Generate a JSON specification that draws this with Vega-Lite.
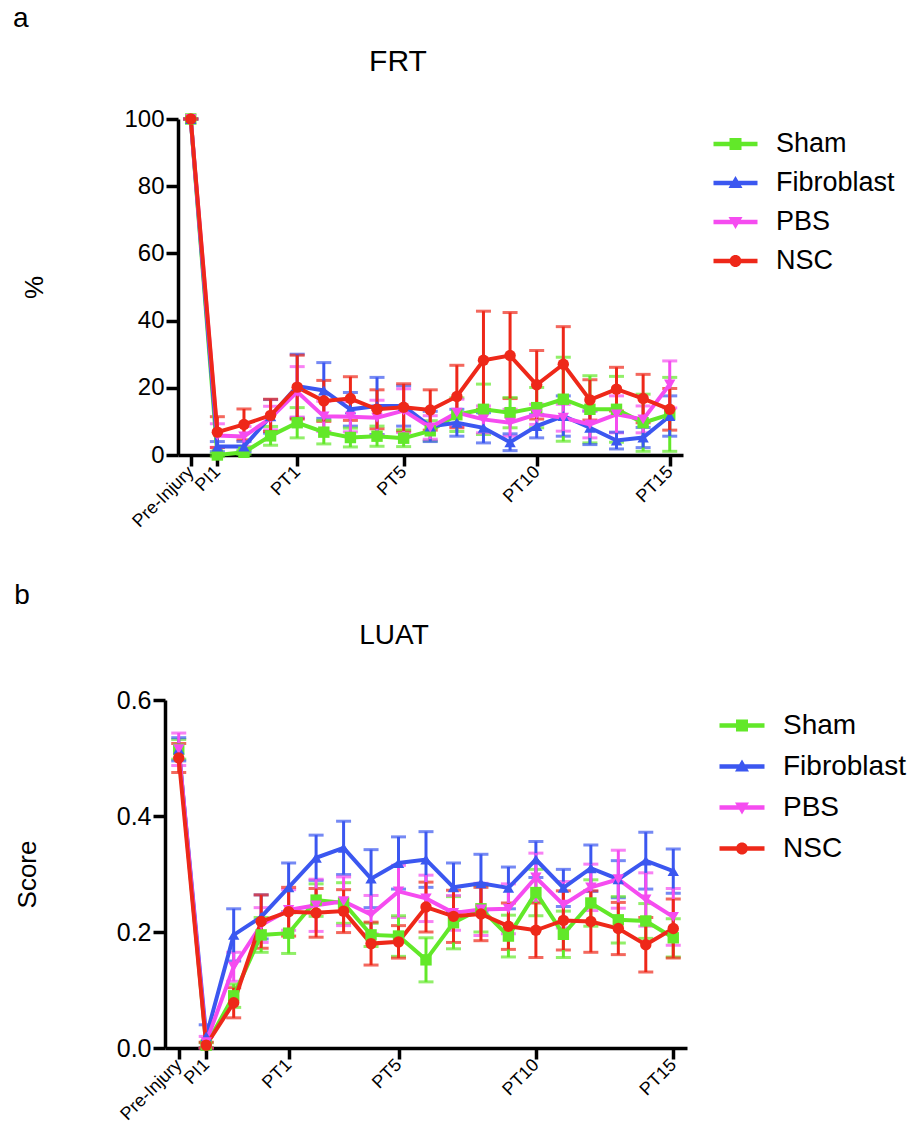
{
  "$schema": "https://vega.github.io/schema/vega-lite/v6.json",
  "padding": {"left": 12, "top": 5, "right": 5, "bottom": 5},
  "background": "white",
  "config": {
    "font": "Liberation Sans",
    "view": {"stroke": null},
    "axis": {"grid": false, "domainColor": "black", "tickColor": "black", "labelColor": "black", "titleColor": "black", "domainWidth": 3.5, "tickWidth": 3.5, "labelFont": "Liberation Sans", "titleFont": "Liberation Sans", "titleFontWeight": "normal"},
    "legend": {"labelFont": "Liberation Sans", "labelColor": "black"},
    "title": {"font": "Liberation Sans", "fontWeight": "normal", "color": "black"}
  },
  "datasets": {
    "frt": [
      {"t":"Pre-Injury","g":"Sham","m":100,"e":0},{"t":"PI1","g":"Sham","m":0,"e":0.5},{"t":"PI2","g":"Sham","m":0.8,"e":0.6},{"t":"PI3","g":"Sham","m":5.7,"e":2.8},{"t":"PT1","g":"Sham","m":9.6,"e":4.5},{"t":"PT2","g":"Sham","m":6.8,"e":3.5},{"t":"PT3","g":"Sham","m":5.2,"e":2.8},{"t":"PT4","g":"Sham","m":5.6,"e":3},{"t":"PT5","g":"Sham","m":5.0,"e":2.5},{"t":"PT6","g":"Sham","m":7.2,"e":3},{"t":"PT7","g":"Sham","m":12.0,"e":5},{"t":"PT8","g":"Sham","m":13.6,"e":7.5},{"t":"PT9","g":"Sham","m":12.6,"e":4.5},{"t":"PT10","g":"Sham","m":14.1,"e":6},{"t":"PT11","g":"Sham","m":16.6,"e":12.5},{"t":"PT12","g":"Sham","m":13.6,"e":10},{"t":"PT13","g":"Sham","m":13.6,"e":9.8},{"t":"PT14","g":"Sham","m":9.6,"e":8.5},{"t":"PT15","g":"Sham","m":12.1,"e":11},
      {"t":"Pre-Injury","g":"Fibroblast","m":100,"e":0},{"t":"PI1","g":"Fibroblast","m":2.5,"e":1.5},{"t":"PI2","g":"Fibroblast","m":2.5,"e":1.5},{"t":"PI3","g":"Fibroblast","m":11.5,"e":5},{"t":"PT1","g":"Fibroblast","m":20.5,"e":9.5},{"t":"PT2","g":"Fibroblast","m":19.2,"e":8.3},{"t":"PT3","g":"Fibroblast","m":13.6,"e":5},{"t":"PT4","g":"Fibroblast","m":14.6,"e":8.5},{"t":"PT5","g":"Fibroblast","m":14.6,"e":6},{"t":"PT6","g":"Fibroblast","m":8.5,"e":4.5},{"t":"PT7","g":"Fibroblast","m":9.6,"e":4},{"t":"PT8","g":"Fibroblast","m":8.1,"e":4.5},{"t":"PT9","g":"Fibroblast","m":3.8,"e":2.5},{"t":"PT10","g":"Fibroblast","m":8.6,"e":3.5},{"t":"PT11","g":"Fibroblast","m":11.6,"e":6},{"t":"PT12","g":"Fibroblast","m":8.1,"e":5},{"t":"PT13","g":"Fibroblast","m":4.3,"e":2.5},{"t":"PT14","g":"Fibroblast","m":5.2,"e":3},{"t":"PT15","g":"Fibroblast","m":11.6,"e":6},
      {"t":"Pre-Injury","g":"PBS","m":100,"e":0},{"t":"PI1","g":"PBS","m":5.8,"e":3.5},{"t":"PI2","g":"PBS","m":5.5,"e":3},{"t":"PI3","g":"PBS","m":11.0,"e":3.5},{"t":"PT1","g":"PBS","m":18.8,"e":7.5},{"t":"PT2","g":"PBS","m":11.5,"e":4.5},{"t":"PT3","g":"PBS","m":11.4,"e":4.5},{"t":"PT4","g":"PBS","m":11.1,"e":5.2},{"t":"PT5","g":"PBS","m":13.2,"e":6.5},{"t":"PT6","g":"PBS","m":8.2,"e":3.5},{"t":"PT7","g":"PBS","m":12.6,"e":4},{"t":"PT8","g":"PBS","m":10.6,"e":4},{"t":"PT9","g":"PBS","m":9.6,"e":4},{"t":"PT10","g":"PBS","m":12.1,"e":3},{"t":"PT11","g":"PBS","m":11.1,"e":4},{"t":"PT12","g":"PBS","m":9.1,"e":4},{"t":"PT13","g":"PBS","m":12.1,"e":5.5},{"t":"PT14","g":"PBS","m":10.6,"e":4},{"t":"PT15","g":"PBS","m":21.0,"e":7},
      {"t":"Pre-Injury","g":"NSC","m":100,"e":0},{"t":"PI1","g":"NSC","m":6.8,"e":4.6},{"t":"PI2","g":"NSC","m":9.1,"e":4.6},{"t":"PI3","g":"NSC","m":11.8,"e":4.8},{"t":"PT1","g":"NSC","m":20.2,"e":9.5},{"t":"PT2","g":"NSC","m":16.1,"e":6.1},{"t":"PT3","g":"NSC","m":16.8,"e":6.5},{"t":"PT4","g":"NSC","m":13.6,"e":5.8},{"t":"PT5","g":"NSC","m":14.2,"e":7},{"t":"PT6","g":"NSC","m":13.4,"e":6},{"t":"PT7","g":"NSC","m":17.4,"e":9.3},{"t":"PT8","g":"NSC","m":28.2,"e":14.6},{"t":"PT9","g":"NSC","m":29.6,"e":12.8},{"t":"PT10","g":"NSC","m":20.9,"e":10.2},{"t":"PT11","g":"NSC","m":27.0,"e":11.2},{"t":"PT12","g":"NSC","m":16.4,"e":6},{"t":"PT13","g":"NSC","m":19.6,"e":6.5},{"t":"PT14","g":"NSC","m":16.8,"e":7.2},{"t":"PT15","g":"NSC","m":13.6,"e":6.2}
    ],
    "luat": [
      {"t":"Pre-Injury","g":"Sham","m":0.515,"e":0.017},{"t":"PI1","g":"Sham","m":0.005,"e":0.004},{"t":"PI2","g":"Sham","m":0.09,"e":0.02},{"t":"PI3","g":"Sham","m":0.195,"e":0.03},{"t":"PT1","g":"Sham","m":0.198,"e":0.035},{"t":"PT2","g":"Sham","m":0.255,"e":0.028},{"t":"PT3","g":"Sham","m":0.25,"e":0.035},{"t":"PT4","g":"Sham","m":0.195,"e":0.02},{"t":"PT5","g":"Sham","m":0.193,"e":0.035},{"t":"PT6","g":"Sham","m":0.152,"e":0.038},{"t":"PT7","g":"Sham","m":0.216,"e":0.045},{"t":"PT8","g":"Sham","m":0.24,"e":0.04},{"t":"PT9","g":"Sham","m":0.193,"e":0.036},{"t":"PT10","g":"Sham","m":0.268,"e":0.04},{"t":"PT11","g":"Sham","m":0.196,"e":0.04},{"t":"PT12","g":"Sham","m":0.25,"e":0.04},{"t":"PT13","g":"Sham","m":0.221,"e":0.04},{"t":"PT14","g":"Sham","m":0.219,"e":0.03},{"t":"PT15","g":"Sham","m":0.19,"e":0.033},
      {"t":"Pre-Injury","g":"Fibroblast","m":0.515,"e":0.02},{"t":"PI1","g":"Fibroblast","m":0.02,"e":0.02},{"t":"PI2","g":"Fibroblast","m":0.195,"e":0.045},{"t":"PI3","g":"Fibroblast","m":0.226,"e":0.038},{"t":"PT1","g":"Fibroblast","m":0.277,"e":0.042},{"t":"PT2","g":"Fibroblast","m":0.328,"e":0.039},{"t":"PT3","g":"Fibroblast","m":0.345,"e":0.046},{"t":"PT4","g":"Fibroblast","m":0.292,"e":0.05},{"t":"PT5","g":"Fibroblast","m":0.319,"e":0.045},{"t":"PT6","g":"Fibroblast","m":0.325,"e":0.048},{"t":"PT7","g":"Fibroblast","m":0.277,"e":0.042},{"t":"PT8","g":"Fibroblast","m":0.284,"e":0.05},{"t":"PT9","g":"Fibroblast","m":0.276,"e":0.036},{"t":"PT10","g":"Fibroblast","m":0.325,"e":0.031},{"t":"PT11","g":"Fibroblast","m":0.276,"e":0.032},{"t":"PT12","g":"Fibroblast","m":0.31,"e":0.04},{"t":"PT13","g":"Fibroblast","m":0.291,"e":0.032},{"t":"PT14","g":"Fibroblast","m":0.323,"e":0.049},{"t":"PT15","g":"Fibroblast","m":0.305,"e":0.038},
      {"t":"Pre-Injury","g":"PBS","m":0.515,"e":0.028},{"t":"PI1","g":"PBS","m":0.01,"e":0.01},{"t":"PI2","g":"PBS","m":0.14,"e":0.025},{"t":"PI3","g":"PBS","m":0.212,"e":0.03},{"t":"PT1","g":"PBS","m":0.238,"e":0.035},{"t":"PT2","g":"PBS","m":0.246,"e":0.045},{"t":"PT3","g":"PBS","m":0.253,"e":0.042},{"t":"PT4","g":"PBS","m":0.23,"e":0.033},{"t":"PT5","g":"PBS","m":0.27,"e":0.045},{"t":"PT6","g":"PBS","m":0.258,"e":0.04},{"t":"PT7","g":"PBS","m":0.233,"e":0.03},{"t":"PT8","g":"PBS","m":0.239,"e":0.045},{"t":"PT9","g":"PBS","m":0.24,"e":0.043},{"t":"PT10","g":"PBS","m":0.294,"e":0.042},{"t":"PT11","g":"PBS","m":0.247,"e":0.04},{"t":"PT12","g":"PBS","m":0.277,"e":0.04},{"t":"PT13","g":"PBS","m":0.291,"e":0.05},{"t":"PT14","g":"PBS","m":0.256,"e":0.046},{"t":"PT15","g":"PBS","m":0.226,"e":0.049},
      {"t":"Pre-Injury","g":"NSC","m":0.5,"e":0.025},{"t":"PI1","g":"NSC","m":0.005,"e":0.005},{"t":"PI2","g":"NSC","m":0.078,"e":0.026},{"t":"PI3","g":"NSC","m":0.218,"e":0.046},{"t":"PT1","g":"NSC","m":0.235,"e":0.042},{"t":"PT2","g":"NSC","m":0.233,"e":0.042},{"t":"PT3","g":"NSC","m":0.236,"e":0.037},{"t":"PT4","g":"NSC","m":0.18,"e":0.037},{"t":"PT5","g":"NSC","m":0.183,"e":0.028},{"t":"PT6","g":"NSC","m":0.243,"e":0.043},{"t":"PT7","g":"NSC","m":0.227,"e":0.045},{"t":"PT8","g":"NSC","m":0.231,"e":0.046},{"t":"PT9","g":"NSC","m":0.21,"e":0.04},{"t":"PT10","g":"NSC","m":0.203,"e":0.047},{"t":"PT11","g":"NSC","m":0.22,"e":0.051},{"t":"PT12","g":"NSC","m":0.218,"e":0.053},{"t":"PT13","g":"NSC","m":0.206,"e":0.045},{"t":"PT14","g":"NSC","m":0.178,"e":0.047},{"t":"PT15","g":"NSC","m":0.206,"e":0.051}
    ]
  },
  "spacing": 51,
  "columns": 1,
  "resolve": {"scale": {"color": "independent"}, "legend": {"color": "independent"}},
  "concat": [
    {
      "title": {"text": "a", "anchor": "start", "fontSize": 28, "offset": 14, "dx": -9},
      "vconcat": [
        {
          "title": {"text": "FRT", "fontSize": 30, "anchor": "middle", "dx": -26, "offset": 30},
          "width": 518,
          "height": 336,
          "data": {"name": "frt"},
          "encoding": {
            "x": {"field": "t", "type": "ordinal", "scale": {"type": "point", "padding": 0.733, "align": 0.66, "domain": ["Pre-Injury","PI1","PI2","PI3","PT1","PT2","PT3","PT4","PT5","PT6","PT7","PT8","PT9","PT10","PT11","PT12","PT13","PT14","PT15"]}, "axis": {"title": null, "values": ["Pre-Injury","PI1","PT1","PT5","PT10","PT15"], "labelAngle": -45, "labelFontSize": 18, "tickSize": 11, "labelPadding": 3, "labelBaseline": "middle", "labelAlign": "right", "domainDash": [0, 13, 600, 10]}},
            "y": {"field": "m", "type": "quantitative", "scale": {"domain": [0, 100], "nice": false}, "axis": {"title": "%", "offset": -13, "values": [0, 20, 40, 60, 80, 100], "labelFontSize": 24, "tickSize": 12, "labelPadding": 2, "titleFontSize": 26, "titlePadding": 76}},
            "color": {"field": "g", "type": "nominal", "scale": {"domain": ["Sham", "Fibroblast", "PBS", "NSC"], "range": ["#62e829", "#3b57f0", "#f54cf0", "#ee2819"]},
              "legend": {"orient": "none", "legendX": 557, "legendY": 11.5, "title": null, "labelFontSize": 27, "labelOffset": 27, "rowPadding": 11, "symbolSize": 100, "padding": 0,
                "encode": {"symbols": {"update": {
                  "shape": {"signal": "datum.value === 'Sham' ? 'M-4.4,-0.45H4.4V0.45H-4.4Z M-1.2,-1.2H1.2V1.2H-1.2Z' : datum.value === 'Fibroblast' ? 'M-4.4,-0.45H4.4V0.45H-4.4Z M0,-1.4L1.4,1L-1.4,1Z' : datum.value === 'PBS' ? 'M-4.4,-0.45H4.4V0.45H-4.4Z M0,1.4L-1.4,-1L1.4,-1Z' : 'M-4.4,-0.45H4.4V0.45H-4.4Z M-1.2,0A1.2,1.2,0,1,1,1.2,0A1.2,1.2,0,1,1,-1.2,0Z'"},
                  "fill": {"signal": "datum.value === 'Sham' ? '#62e829' : datum.value === 'Fibroblast' ? '#3b57f0' : datum.value === 'PBS' ? '#f54cf0' : '#ee2819'"},
                  "fillOpacity": {"value": 1},
                  "opacity": {"value": 1},
                  "stroke": {"value": "transparent"},
                  "strokeWidth": {"value": 0}
                }}}
              }}
          },
          "layer": [
            {"mark": {"type": "errorbar", "thickness": 3, "ticks": {"size": 15, "thickness": 3}}, "encoding": {"yError": {"field": "e"}}},
            {"mark": {"type": "line", "strokeWidth": 4}},
            {"transform": [{"filter": "datum.g === 'Sham'"}], "mark": {"type": "point", "shape": "square", "filled": true, "size": 130, "opacity": 1}},
            {"transform": [{"filter": "datum.g === 'Fibroblast'"}], "mark": {"type": "point", "shape": "triangle-up", "filled": true, "size": 130, "opacity": 1}},
            {"transform": [{"filter": "datum.g === 'PBS'"}], "mark": {"type": "point", "shape": "triangle-down", "filled": true, "size": 130, "opacity": 1}},
            {"transform": [{"filter": "datum.g === 'NSC'"}], "mark": {"type": "point", "shape": "circle", "filled": true, "size": 130, "opacity": 1}}
          ]
        }
      ]
    },
    {
      "title": {"text": "b", "anchor": "start", "fontSize": 28, "offset": 12},
      "vconcat": [
        {
          "title": {"text": "LUAT", "fontSize": 28, "anchor": "middle", "dx": -32, "offset": 38},
          "width": 522,
          "height": 348,
          "data": {"name": "luat"},
          "encoding": {
            "x": {"field": "t", "type": "ordinal", "scale": {"type": "point", "padding": 0.5, "domain": ["Pre-Injury","PI1","PI2","PI3","PT1","PT2","PT3","PT4","PT5","PT6","PT7","PT8","PT9","PT10","PT11","PT12","PT13","PT14","PT15"]}, "axis": {"title": null, "values": ["Pre-Injury","PI1","PT1","PT5","PT10","PT15"], "labelAngle": -45, "labelFontSize": 18, "tickSize": 11, "labelPadding": 3, "labelBaseline": "middle", "labelAlign": "right"}},
            "y": {"field": "m", "type": "quantitative", "scale": {"domain": [0, 0.6], "nice": false}, "axis": {"title": "Score", "values": [0, 0.2, 0.4, 0.6], "format": ".1f", "labelFontSize": 25, "tickSize": 12, "labelPadding": 2, "titleFontSize": 26, "titlePadding": 76}},
            "color": {"field": "g", "type": "nominal", "scale": {"domain": ["Sham", "Fibroblast", "PBS", "NSC"], "range": ["#62e829", "#3b57f0", "#f54cf0", "#ee2819"]},
              "legend": {"orient": "none", "legendX": 563, "legendY": 11.5, "title": null, "labelFontSize": 28, "labelOffset": 27, "rowPadding": 13, "symbolSize": 100, "padding": 0,
                "encode": {"symbols": {"update": {
                  "shape": {"signal": "datum.value === 'Sham' ? 'M-4.5,-0.45H4.5V0.45H-4.5Z M-1.2,-1.2H1.2V1.2H-1.2Z' : datum.value === 'Fibroblast' ? 'M-4.5,-0.45H4.5V0.45H-4.5Z M0,-1.4L1.4,1L-1.4,1Z' : datum.value === 'PBS' ? 'M-4.5,-0.45H4.5V0.45H-4.5Z M0,1.4L-1.4,-1L1.4,-1Z' : 'M-4.5,-0.45H4.5V0.45H-4.5Z M-1.2,0A1.2,1.2,0,1,1,1.2,0A1.2,1.2,0,1,1,-1.2,0Z'"},
                  "fill": {"signal": "datum.value === 'Sham' ? '#62e829' : datum.value === 'Fibroblast' ? '#3b57f0' : datum.value === 'PBS' ? '#f54cf0' : '#ee2819'"},
                  "fillOpacity": {"value": 1},
                  "opacity": {"value": 1},
                  "stroke": {"value": "transparent"},
                  "strokeWidth": {"value": 0}
                }}}
              }}
          },
          "layer": [
            {"mark": {"type": "errorbar", "thickness": 3, "ticks": {"size": 15, "thickness": 3}}, "encoding": {"yError": {"field": "e"}}},
            {"mark": {"type": "line", "strokeWidth": 4}},
            {"transform": [{"filter": "datum.g === 'Sham'"}], "mark": {"type": "point", "shape": "square", "filled": true, "size": 130, "opacity": 1}},
            {"transform": [{"filter": "datum.g === 'Fibroblast'"}], "mark": {"type": "point", "shape": "triangle-up", "filled": true, "size": 130, "opacity": 1}},
            {"transform": [{"filter": "datum.g === 'PBS'"}], "mark": {"type": "point", "shape": "triangle-down", "filled": true, "size": 130, "opacity": 1}},
            {"transform": [{"filter": "datum.g === 'NSC'"}], "mark": {"type": "point", "shape": "circle", "filled": true, "size": 130, "opacity": 1}}
          ]
        }
      ]
    }
  ]
}
